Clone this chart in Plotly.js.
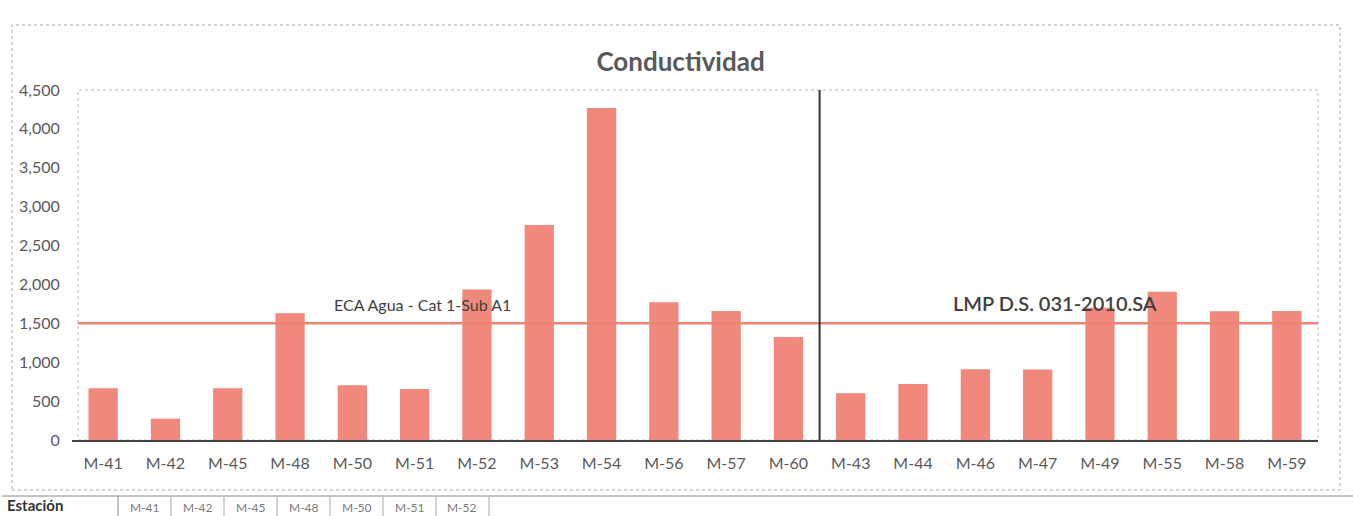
<!DOCTYPE html>
<html>
<head>
<meta charset="utf-8">
<script src="https://cdn.plot.ly/plotly-3.0.1.min.js"></script>
<style>
  html, body { margin: 0; padding: 0; background: #ffffff; }
  #chart { width: 1353px; height: 516px; }
</style>
</head>
<body>
<div id="chart"></div>
<script>
// ---- data ----
const stations = ['M-41','M-42','M-45','M-48','M-50','M-51','M-52','M-53','M-54','M-56','M-57','M-60',
                  'M-43','M-44','M-46','M-47','M-49','M-55','M-58','M-59'];
const conductividad = [665, 275, 665, 1630, 705, 655, 1935, 2765, 4270, 1770, 1660, 1325,
                       600, 720, 910, 905, 1700, 1905, 1655, 1660];
const limitValue = 1500;
const limitLabelLeft = 'ECA Agua - Cat 1-Sub A1';
const limitLabelRight = 'LMP D.S. 031-2010.SA';
const lastOfFirstGroup = 'M-60';
const yTickValues = [0, 500, 1000, 1500, 2000, 2500, 3000, 3500, 4000, 4500];
const tableHeader = 'Estación';
const tableStations = ['M-41','M-42','M-45','M-48','M-50','M-51','M-52'];

// ---- layout helpers ----
const W = 1353, H = 516;
const plotL = 72, plotR = 1318, plotT = 90, plotB = 440;
const px2x = p => (p - plotL) / (plotR - plotL);
const px2y = p => (plotB - p) / (plotB - plotT);
const textGray = '#595959';
const barColor = '#F0897B';
const font = 'Lato, "Open Sans", sans-serif';

const trace = {
  type: 'bar',
  x: stations,
  y: conductividad,
  marker: { color: barColor, line: { width: 0 } },
  hoverinfo: 'x+y'
};

const shapes = [
  // outer chart frame
  { type: 'rect', xref: 'paper', yref: 'paper', x0: px2x(12), x1: px2x(1340), y0: px2y(490), y1: px2y(25),
    line: { color: '#a8a8a8', width: 1, dash: 'dot' }, layer: 'below' },
  // plot area frame
  { type: 'rect', xref: 'paper', yref: 'paper', x0: px2x(78), x1: 1, y0: 0, y1: 1,
    line: { color: '#b8b8b8', width: 1, dash: 'dot' }, layer: 'below' },
  // limit line
  { type: 'line', xref: 'paper', yref: 'y', x0: px2x(78), x1: 1, y0: limitValue, y1: limitValue,
    line: { color: '#EE8474', width: 2.5 } },
  // group divider
  { type: 'line', xref: 'x', yref: 'paper', x0: stations.indexOf(lastOfFirstGroup) + 0.5,
    x1: stations.indexOf(lastOfFirstGroup) + 0.5, y0: 0, y1: 1,
    line: { color: '#333333', width: 2 } },
  // table top line
  { type: 'line', xref: 'paper', yref: 'paper', x0: px2x(2), x1: px2x(1353), y0: px2y(496), y1: px2y(496),
    line: { color: '#888888', width: 1 } }
];

const annotations = [
  { xref: 'x', yref: 'y', x: stations.indexOf('M-51') + 0.12, y: limitValue, yshift: 19,
    text: limitLabelLeft, showarrow: false, font: { family: font, size: 16, color: '#404040' } },
  { xref: 'x', yref: 'y', x: stations.indexOf('M-47') + 0.28, y: limitValue, yshift: 20,
    text: limitLabelRight, showarrow: false, font: { family: font, size: 20, color: '#404040', weight: 600 } },
  { xref: 'paper', yref: 'paper', x: px2x(5), y: px2y(505.5), xanchor: 'left', yanchor: 'middle',
    text: '<b>' + tableHeader + '</b>', showarrow: false, font: { family: font, size: 15, color: '#333333' } }
];

// table cells
const cellStart = 118, cellW = 53;
shapes.push({ type: 'line', xref: 'paper', yref: 'paper', x0: px2x(cellStart), x1: px2x(cellStart),
  y0: px2y(516), y1: px2y(496), line: { color: '#888888', width: 1 } });
tableStations.forEach((s, i) => {
  const right = cellStart + cellW * (i + 1);
  shapes.push({ type: 'line', xref: 'paper', yref: 'paper', x0: px2x(right), x1: px2x(right),
    y0: px2y(516), y1: px2y(497), line: { color: '#aaaaaa', width: 1 } });
  annotations.push({ xref: 'paper', yref: 'paper', x: px2x(cellStart + cellW * (i + 0.5)), y: px2y(507),
    xanchor: 'center', yanchor: 'middle',
    text: s, showarrow: false, font: { family: font, size: 12, color: '#7a7a7a' } });
});

const layout = {
  width: W, height: H,
  margin: { l: plotL, r: W - plotR, t: plotT, b: H - plotB, pad: 0 },
  paper_bgcolor: '#ffffff', plot_bgcolor: '#ffffff',
  showlegend: false,
  bargap: 0.53,
  title: {
    text: '<b>Conductividad</b>',
    font: { family: font, size: 26, color: textGray },
    xref: 'container', x: 0.503, xanchor: 'center',
    yref: 'container', y: 1 - 62 / H, yanchor: 'middle'
  },
  xaxis: {
    type: 'category',
    categoryorder: 'array', categoryarray: stations,
    showgrid: false, zeroline: false,
    showline: true, linecolor: '#404040', linewidth: 1.5,
    ticks: 'outside', ticklen: 8, tickcolor: 'rgba(0,0,0,0)',
    tickfont: { family: font, size: 16, color: textGray },
    fixedrange: true
  },
  yaxis: {
    range: [0, 4500],
    tickmode: 'array', tickvals: yTickValues,
    tickformat: ',d',
    showgrid: false, zeroline: false, showline: false,
    ticks: 'outside', ticklen: 8, tickcolor: 'rgba(0,0,0,0)',
    tickfont: { family: font, size: 16, color: textGray },
    fixedrange: true
  },
  shapes: shapes,
  annotations: annotations,
  font: { family: font }
};

Plotly.newPlot('chart', [trace], layout, { displayModeBar: false, staticPlot: true });
</script>
</body>
</html>
